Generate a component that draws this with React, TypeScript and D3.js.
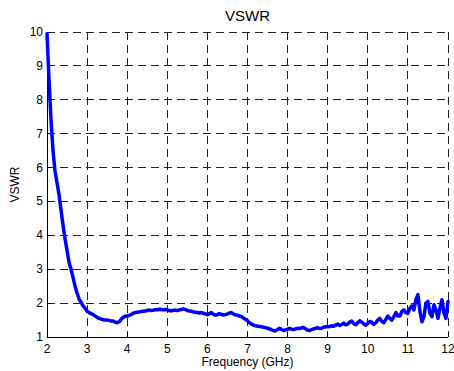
import React from "react";
import * as d3 from "d3";

// chart data
const freqGHz = [
  2.0, 2.05, 2.1, 2.15, 2.2, 2.25, 2.3, 2.35, 2.4, 2.45, 2.5, 2.55, 2.6, 2.65, 2.7, 2.75, 2.8, 2.85, 2.9, 2.95,
  3.0, 3.05, 3.1, 3.15, 3.2, 3.25, 3.3, 3.35, 3.4, 3.45, 3.5, 3.55, 3.6, 3.65, 3.7, 3.75, 3.8, 3.85, 3.9, 3.95,
  4.0, 4.05, 4.1, 4.15, 4.2, 4.25, 4.3, 4.35, 4.4, 4.45, 4.5, 4.55, 4.6, 4.65, 4.7, 4.75, 4.8, 4.85, 4.9, 4.95,
  5.0, 5.05, 5.1, 5.15, 5.2, 5.25, 5.3, 5.35, 5.4, 5.45, 5.5, 5.55, 5.6, 5.65, 5.7, 5.75, 5.8, 5.85, 5.9, 5.95,
  6.0, 6.05, 6.1, 6.15, 6.2, 6.25, 6.3, 6.35, 6.4, 6.45, 6.5, 6.55, 6.6, 6.65, 6.7, 6.75, 6.8, 6.85, 6.9, 6.95,
  7.0, 7.05, 7.1, 7.15, 7.2, 7.25, 7.3, 7.35, 7.4, 7.45, 7.5, 7.55, 7.6, 7.65, 7.7, 7.75, 7.8, 7.85, 7.9, 7.95,
  8.0, 8.05, 8.1, 8.15, 8.2, 8.25, 8.3, 8.35, 8.4, 8.45, 8.5, 8.55, 8.6, 8.65, 8.7, 8.75, 8.8, 8.85, 8.9, 8.95,
  9.0, 9.05, 9.1, 9.15, 9.2, 9.25, 9.3, 9.35, 9.4, 9.45, 9.5, 9.55, 9.6, 9.65, 9.7, 9.75, 9.8, 9.85, 9.9, 9.95,
  10.0, 10.05, 10.1, 10.15, 10.2, 10.25, 10.3, 10.35, 10.4, 10.45, 10.5, 10.55, 10.6, 10.65, 10.7, 10.75, 10.8, 10.85, 10.9, 10.95,
  11.0, 11.05, 11.1, 11.15, 11.2, 11.25, 11.3, 11.35, 11.4, 11.45, 11.5, 11.55, 11.6, 11.65, 11.7, 11.75, 11.8, 11.85, 11.9, 11.95,
  12.0,
];

const vswr = [
  9.95, 8.6, 7.4, 6.5, 5.9, 5.55, 5.2, 4.75, 4.3, 3.9, 3.55, 3.2, 3.0, 2.75, 2.5, 2.3, 2.12, 2.02, 1.92, 1.85,
  1.76, 1.72, 1.69, 1.66, 1.62, 1.58, 1.55, 1.53, 1.51, 1.5, 1.5, 1.49, 1.47, 1.47, 1.44, 1.42, 1.45, 1.52, 1.58, 1.61,
  1.62, 1.64, 1.66, 1.7, 1.72, 1.73, 1.74, 1.75, 1.76, 1.77, 1.78, 1.8, 1.78, 1.79, 1.81, 1.8, 1.82, 1.81, 1.8, 1.81,
  1.8, 1.78, 1.77, 1.79, 1.79, 1.78, 1.8, 1.81, 1.83, 1.81, 1.78, 1.77, 1.76, 1.74, 1.73, 1.72, 1.71, 1.72, 1.7, 1.68,
  1.66, 1.69, 1.72, 1.67, 1.64, 1.66, 1.69, 1.67, 1.65, 1.66, 1.68, 1.71, 1.72, 1.68, 1.65, 1.64, 1.62, 1.6, 1.56, 1.52,
  1.48, 1.42, 1.38, 1.35, 1.33, 1.32, 1.31, 1.3, 1.29, 1.27, 1.26, 1.24, 1.21, 1.19, 1.18, 1.22, 1.26, 1.22, 1.19, 1.21,
  1.23, 1.25, 1.23, 1.22, 1.24, 1.26, 1.25, 1.27, 1.28, 1.24, 1.2, 1.19, 1.22, 1.24, 1.26, 1.27, 1.25, 1.26, 1.29, 1.3,
  1.3, 1.31, 1.33, 1.32, 1.35, 1.38, 1.34, 1.37, 1.41, 1.36, 1.38, 1.44, 1.47, 1.39, 1.36, 1.42, 1.48, 1.44, 1.38, 1.35,
  1.4, 1.46, 1.43, 1.37, 1.42, 1.5, 1.55, 1.46, 1.42, 1.52, 1.62, 1.55, 1.5, 1.6, 1.72, 1.62, 1.62, 1.75, 1.8, 1.72,
  1.7, 1.85, 1.92, 1.8, 2.1, 2.25, 1.75, 1.45, 1.6, 2.0, 2.05, 1.7, 1.6, 1.95, 1.8, 1.55, 1.85, 2.1, 1.7, 1.55,
  2.05,
];

const xTicks = [2, 3, 4, 5, 6, 7, 8, 9, 10, 11, 12];
const yTicks = [1, 2, 3, 4, 5, 6, 7, 8, 9, 10];

const width = 454;
const height = 371;
const margin = { top: 32, right: 6, bottom: 34, left: 47 };
const font = "'Liberation Sans', Arial, sans-serif";

export default function App() {
  const x = d3.scaleLinear().domain([2, 12]).range([margin.left, width - margin.right]);
  const y = d3.scaleLinear().domain([1, 10]).range([height - margin.bottom, margin.top]);

  const line = d3
    .line<number>()
    .x((_, i) => x(freqGHz[i]))
    .y((d) => y(d));

  const x0 = x(2);
  const x1 = x(12);
  const y0 = y(1);
  const y1 = y(10);
  const tick = 4;

  return (
    <svg
      width={width}
      height={height}
      style={{ position: "absolute", left: 0, top: 0, background: "#fff" }}
    >
      <rect width={width} height={height} fill="#fff" />

      {/* grid */}
      <g stroke="#222" strokeWidth={1} strokeDasharray="8,5" shapeRendering="crispEdges">
        {xTicks.slice(1).map((t) => (
          <line key={"gx" + t} x1={x(t)} x2={x(t)} y1={y1} y2={y0} />
        ))}
        {yTicks.slice(1).map((t) => (
          <line key={"gy" + t} x1={x0} x2={x1} y1={y(t)} y2={y(t)} />
        ))}
      </g>

      {/* axes */}
      <g stroke="#000" strokeWidth={1} shapeRendering="crispEdges">
        <line x1={x0} x2={x0} y1={y0} y2={y1} />
        <line x1={x0} x2={x1} y1={y0} y2={y0} />
        {xTicks.map((t) => (
          <line key={"tx" + t} x1={x(t)} x2={x(t)} y1={y0} y2={y0 - tick} />
        ))}
        {yTicks.map((t) => (
          <line key={"ty" + t} x1={x0} x2={x0 + tick} y1={y(t)} y2={y(t)} />
        ))}
      </g>

      {/* data */}
      <path
        d={line(vswr) ?? ""}
        fill="none"
        stroke="#0000ff"
        strokeWidth={3.5}
        strokeLinejoin="round"
        strokeLinecap="round"
      />

      {/* tick labels */}
      <g fontFamily={font} fontSize={12} fill="#000">
        {xTicks.map((t) => (
          <text key={"lx" + t} x={x(t)} y={y0 + 16} textAnchor="middle">
            {t}
          </text>
        ))}
        {yTicks.map((t) => (
          <text key={"ly" + t} x={x0 - 4} y={y(t) + 4} textAnchor="end">
            {t}
          </text>
        ))}
      </g>

      {/* titles */}
      <text x={(x0 + x1) / 2} y={21} textAnchor="middle" fontFamily={font} fontSize={15}>
        VSWR
      </text>
      <text
        x={(x0 + x1) / 2}
        y={366}
        textAnchor="middle"
        fontFamily={font}
        fontSize={12}
      >
        Frequency (GHz)
      </text>
      <text
        transform={`translate(19, ${(y0 + y1) / 2}) rotate(-90)`}
        textAnchor="middle"
        fontFamily={font}
        fontSize={12}
      >
        VSWR
      </text>
    </svg>
  );
}
